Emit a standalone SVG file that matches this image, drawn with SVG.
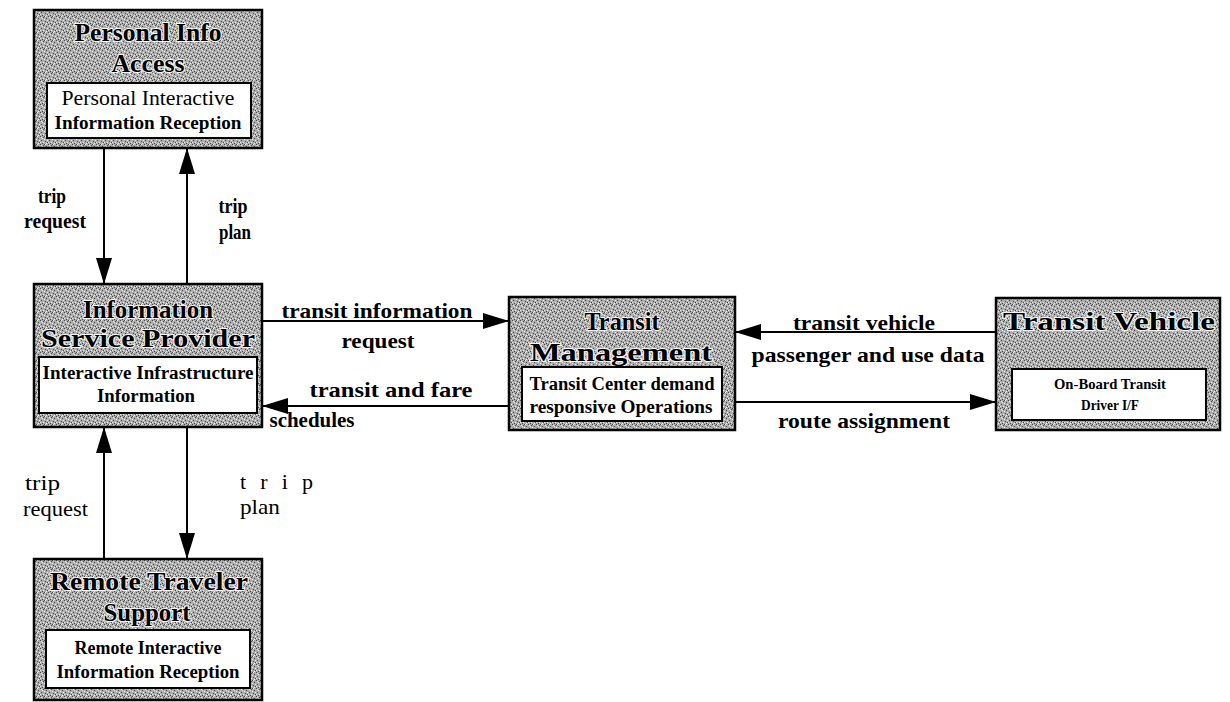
<svg xmlns="http://www.w3.org/2000/svg" width="1230" height="702" viewBox="0 0 1230 702">
  <defs>
    <!-- dithered grey fill used for the subsystem boxes -->
    <pattern id="halftone" width="8" height="8" patternUnits="userSpaceOnUse">
      <rect width="8" height="8" fill="#acacac"/>
      <path d="M0 0h1v1H0zM3 1h1v1H3zM6 2h1v1H6zM1 4h1v1H1zM5 5h1v1H5zM2 7h1v1H2zM7 6h1v1H7zM4 0h1v1H4z" fill="#4a4a4a"/>
      <path d="M2 2h1v1H2zM5 0h1v1H5zM0 6h1v1H0zM4 3h1v1H4zM7 4h1v1H7zM3 6h1v1H3zM6 7h1v1H6zM1 1h1v1H1z" fill="#ececec"/>
    </pattern>
    <marker id="arrow" markerUnits="userSpaceOnUse" markerWidth="26" markerHeight="16" refX="26" refY="8" orient="auto">
      <path d="M0 0L26 8L0 16z" fill="#000"/>
    </marker>
    <style>
      .box { fill: url(#halftone); stroke: #000; stroke-width: 2.5; }
      .inner { fill: #fff; stroke: #000; stroke-width: 2; }
      .ttl { font-family: "Liberation Serif", "Times New Roman", serif; font-weight: bold; font-size: 25px; fill: #000; stroke: #f4f4f4; stroke-width: 2; paint-order: stroke; text-anchor: middle; }
      .in { font-family: "Liberation Serif", "Times New Roman", serif; font-weight: bold; font-size: 18px; fill: #000; text-anchor: middle; }
      .ins { font-family: "Liberation Serif", "Times New Roman", serif; font-weight: bold; font-size: 15px; fill: #000; text-anchor: middle; }
      .inr { font-family: "Liberation Serif", "Times New Roman", serif; font-size: 20px; fill: #000; text-anchor: middle; }
      .lb { font-family: "Liberation Serif", "Times New Roman", serif; font-weight: bold; font-size: 21px; fill: #000; text-anchor: middle; }
      .lr { font-family: "Liberation Serif", "Times New Roman", serif; font-size: 22px; fill: #000; }
      .flow { stroke: #000; stroke-width: 2; fill: none; marker-end: url(#arrow); }
    </style>
  </defs>
  <rect width="1230" height="702" fill="#fff"/>

  <!-- subsystems -->
  <g id="personal-info-access">
    <rect class="box" x="34" y="10" width="228" height="138"/>
    <text class="ttl" x="148" y="41" textLength="147" lengthAdjust="spacingAndGlyphs">Personal Info</text>
    <text class="ttl" x="148" y="72" textLength="73" lengthAdjust="spacingAndGlyphs">Access</text>
    <rect class="inner" x="47" y="83" width="204" height="55"/>
    <text class="inr" x="148" y="105" textLength="173" lengthAdjust="spacingAndGlyphs">Personal Interactive</text>
    <text class="in" x="148" y="129" textLength="187" lengthAdjust="spacingAndGlyphs">Information Reception</text>
  </g>

  <g id="information-service-provider">
    <rect class="box" x="34" y="284" width="228" height="143"/>
    <text class="ttl" x="148" y="318" textLength="130" lengthAdjust="spacingAndGlyphs">Information</text>
    <text class="ttl" x="148" y="347" textLength="214" lengthAdjust="spacingAndGlyphs">Service Provider</text>
    <rect class="inner" x="39" y="357" width="218" height="56"/>
    <text class="in" x="148" y="379" textLength="211" lengthAdjust="spacingAndGlyphs">Interactive Infrastructure</text>
    <text class="in" x="146" y="402" textLength="98" lengthAdjust="spacingAndGlyphs">Information</text>
  </g>

  <g id="remote-traveler-support">
    <rect class="box" x="34" y="559" width="228" height="141"/>
    <text class="ttl" x="149" y="590" textLength="198" lengthAdjust="spacingAndGlyphs">Remote Traveler</text>
    <text class="ttl" x="147" y="621" textLength="87" lengthAdjust="spacingAndGlyphs">Support</text>
    <rect class="inner" x="46" y="630" width="204" height="58"/>
    <text class="in" x="148" y="654" textLength="147" lengthAdjust="spacingAndGlyphs">Remote Interactive</text>
    <text class="in" x="148" y="678" textLength="183" lengthAdjust="spacingAndGlyphs">Information Reception</text>
  </g>

  <g id="transit-management">
    <rect class="box" x="509" y="297" width="226" height="133"/>
    <text class="ttl" x="622" y="330" textLength="75" lengthAdjust="spacingAndGlyphs">Transit</text>
    <text class="ttl" x="621" y="361" textLength="182" lengthAdjust="spacingAndGlyphs">Management</text>
    <rect class="inner" x="522" y="367" width="200" height="54"/>
    <text class="in" x="622" y="390" textLength="185" lengthAdjust="spacingAndGlyphs">Transit Center demand</text>
    <text class="in" x="621" y="413" textLength="183" lengthAdjust="spacingAndGlyphs">responsive Operations</text>
  </g>

  <g id="transit-vehicle">
    <rect class="box" x="996" y="298" width="224" height="132"/>
    <text class="ttl" x="1109" y="330" textLength="212" lengthAdjust="spacingAndGlyphs">Transit Vehicle</text>
    <rect class="inner" x="1012" y="369" width="194" height="51"/>
    <text class="ins" x="1110" y="389" textLength="112" lengthAdjust="spacingAndGlyphs">On-Board Transit</text>
    <text class="ins" x="1110" y="410" textLength="58" lengthAdjust="spacingAndGlyphs">Driver I/F</text>
  </g>

  <!-- information flows -->
  <g id="connectors">
    <line class="flow" x1="104" y1="148" x2="104" y2="284"/>
    <line class="flow" x1="187" y1="284" x2="187" y2="148"/>
    <line class="flow" x1="262" y1="321" x2="509" y2="321"/>
    <line class="flow" x1="509" y1="406" x2="262" y2="406"/>
    <line class="flow" x1="996" y1="332" x2="735" y2="332"/>
    <line class="flow" x1="735" y1="402" x2="996" y2="402"/>
    <line class="flow" x1="104" y1="559" x2="104" y2="427"/>
    <line class="flow" x1="187" y1="427" x2="187" y2="559"/>

    <text class="lb" x="52" y="203" textLength="28" lengthAdjust="spacingAndGlyphs">trip</text>
    <text class="lb" x="55" y="228" textLength="62" lengthAdjust="spacingAndGlyphs">request</text>
    <text class="lb" x="233" y="213" textLength="29" lengthAdjust="spacingAndGlyphs">trip</text>
    <text class="lb" x="235" y="239" textLength="32" lengthAdjust="spacingAndGlyphs">plan</text>

    <text class="lb" x="377" y="318" textLength="191" lengthAdjust="spacingAndGlyphs">transit information</text>
    <text class="lb" x="378" y="348" textLength="73" lengthAdjust="spacingAndGlyphs">request</text>
    <text class="lb" x="391" y="397" textLength="163" lengthAdjust="spacingAndGlyphs">transit and fare</text>
    <text class="lb" x="312" y="427" textLength="85" lengthAdjust="spacingAndGlyphs">schedules</text>

    <text class="lb" x="864" y="330" textLength="142" lengthAdjust="spacingAndGlyphs">transit vehicle</text>
    <text class="lb" x="868" y="362" textLength="233" lengthAdjust="spacingAndGlyphs">passenger and use data</text>
    <text class="lb" x="864" y="428" textLength="172" lengthAdjust="spacingAndGlyphs">route assignment</text>

    <text class="lr" x="25" y="490" textLength="35" lengthAdjust="spacingAndGlyphs">trip</text>
    <text class="lr" x="23" y="516" textLength="65" lengthAdjust="spacingAndGlyphs">request</text>
    <text class="lr" x="240" y="489" textLength="73" lengthAdjust="spacing">t r i p</text>
    <text class="lr" x="240" y="514" textLength="40" lengthAdjust="spacingAndGlyphs">plan</text>
  </g>
</svg>
